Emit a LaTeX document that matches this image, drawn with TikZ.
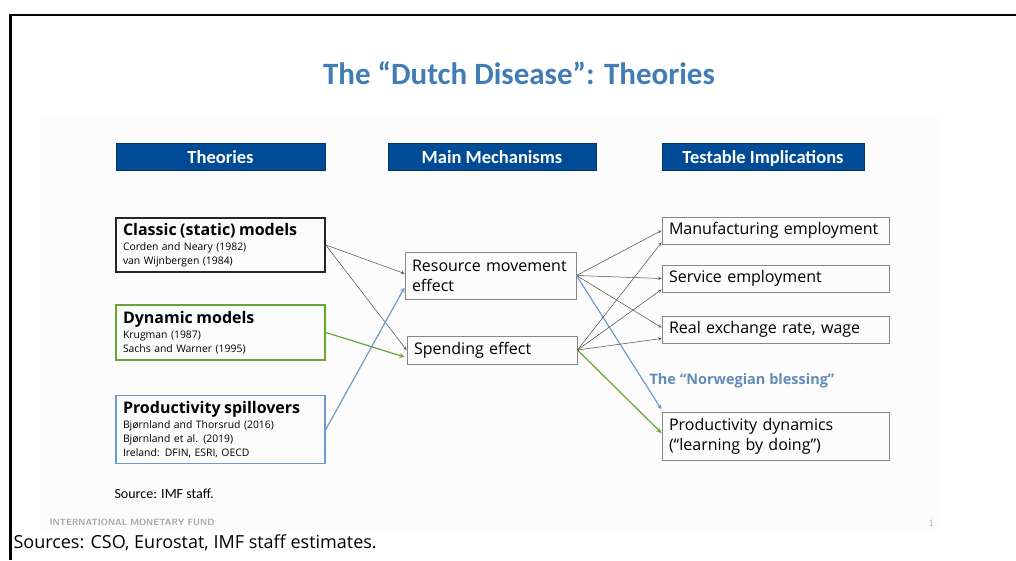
\documentclass[tikz,border=0pt]{standalone}
\usepackage{fontspec}
\setmainfont{Open Sans}
\newfontfamily\calfont{Carlito}
\usetikzlibrary{calc}

\definecolor{titleblue}{RGB}{65,125,180}
\definecolor{headblue}{RGB}{0,75,150}
\definecolor{linkblue}{RGB}{110,155,205}
\definecolor{linkgreen}{RGB}{105,165,50}
\definecolor{boxgray}{RGB}{135,135,135}
\definecolor{slidegray}{RGB}{252,252,252}

\tikzset{
  header/.style={draw=headblue!70!black, fill=headblue, text=white, inner sep=0pt,
    minimum height=27pt, text height=13pt, text depth=0pt,
    font=\calfont\bfseries\fontsize{18.5}{20}\selectfont},
  theory/.style={draw, line width=1.5pt, inner xsep=6pt, inner ysep=0pt, align=left,
    minimum width=209pt, text width=195pt, font=\fontsize{10.4}{14}\selectfont},
  effect/.style={draw=boxgray, line width=1pt, inner xsep=6pt, inner ysep=0pt, align=left,
    font=\fontsize{16}{20}\selectfont},
  link/.style={->, >=stealth, draw=black!70, line width=0.5pt},
  thick link/.style={->, >=stealth, line width=1.2pt}
}

\begin{document}
\begin{tikzpicture}[x=1pt, y=-1pt]
  \useasboundingbox (0,0) rectangle (1016,560);
  % slide and frame
  \fill[slidegray] (40,117) rectangle (940,530);
  \draw[line width=2.5pt] (10.5,560) -- (10.5,15) -- (1016,15);

  % Title
  \node[text=titleblue, font=\calfont\bfseries\fontsize{31}{34}\selectfont] at (519, 73) (title) {The “Dutch Disease”: Theories};

  % Headers
  \node[header, minimum width=209pt] at (220.5, 156.5) (hTheo) {Theories};
  \node[header, minimum width=208pt] at (492, 156.5) (hMech) {Main Mechanisms};
  \node[header, minimum width=202pt] at (763, 156.5) (hTest) {Testable Implications};

  % Theories
  \node[theory, draw=black!85, minimum height=54pt] at (220.5, 245) (classic)
    {{\fontsize{16}{18}\selectfont\bfseries Classic (static) models}\\[1pt]
     Corden and Neary (1982)\\van Wijnbergen (1984)};
  \node[theory, draw=linkgreen, minimum height=55pt] at (220.5, 332.5) (dynamic)
    {{\fontsize{16}{18}\selectfont\bfseries Dynamic models}\\[1pt]
     Krugman (1987)\\Sachs and Warner (1995)};
  \node[theory, draw=linkblue, minimum height=68pt] at (220.5, 429.5) (spill)
    {{\fontsize{16}{18}\selectfont\bfseries Productivity spillovers}\\[1pt]
     Bjørnland and Thorsrud (2016)\\Bjørnland et al. (2019)\\Ireland: DFIN, ESRI, OECD};

  % Mechanisms
  \node[effect, minimum width=171pt, minimum height=47pt, text width=157pt] at (490.5, 275.5) (resmov) {Resource movement\\effect};
  \node[effect, minimum width=170pt, minimum height=28pt, text width=156pt] at (492, 350) (spend) {Spending effect};

  % Implications
  \node[effect, minimum width=227pt, minimum height=27pt, text width=213pt] at (775.5, 230.5) (manuf) {Manufacturing employment};
  \node[effect, minimum width=227pt, minimum height=27pt, text width=213pt] at (775.5, 278.5) (serv) {Service employment};
  \node[effect, minimum width=227pt, minimum height=27pt, text width=213pt] at (775.5, 329.5) (rer) {Real exchange rate, wage};
  \node[effect, minimum width=227pt, minimum height=48pt, text width=213pt] at (775.5, 436) (proddyn) {Productivity dynamics\\(“learning by doing”)};

  \node[text=linkblue!90!black, font=\bfseries\fontsize{14.5}{17}\selectfont] at (742, 381) (blessing) {The “Norwegian blessing”};

  % Links
  \draw[link] (classic.east) -- ($(resmov.west)+(0,-2)$);
  \draw[link] (classic.east) -- (spend.west);
  \draw[thick link, draw=linkgreen] ($(dynamic.east)+(0,0)$) -- ($(spend.west)+(-2,7)$);
  \draw[thick link, draw=linkblue] (spill.east) -- ($(resmov.west)+(0,12)$);

  \draw[link] (resmov.east) -- (manuf.west);
  \draw[link] (resmov.east) -- (serv.west);
  \draw[link] (resmov.east) -- ($(rer.west)+(0,-2)$);
  \draw[thick link, draw=linkblue] (resmov.east) -- ($(proddyn.north west)+(0,-2)$);
  \draw[link] (spend.east) -- ($(manuf.west)+(0,12)$);
  \draw[link] (spend.east) -- ($(serv.west)+(0,11)$);
  \draw[link] (spend.east) -- ($(rer.west)+(0,9)$);
  \draw[thick link, draw=linkgreen] (spend.east) -- ($(proddyn.west)+(0,-3)$);

  % Footer
  \node[anchor=west, font=\calfont\fontsize{14}{16}\selectfont] at (111, 494) (imfsrc) {Source: IMF staff.};
  \node[anchor=west, text=black!35, font=\sffamily\bfseries\fontsize{9}{10}\selectfont] at (46, 522) (imf) {INTERNATIONAL MONETARY FUND};
  \node[text=linkblue!70, font=\calfont\fontsize{10}{12}\selectfont] at (931, 523) (page) {1};
  \node[anchor=west, font=\fontsize{18}{20}\selectfont] at (10, 543) (sources) {Sources: CSO, Eurostat, IMF staff estimates.};
\end{tikzpicture}
\end{document}
